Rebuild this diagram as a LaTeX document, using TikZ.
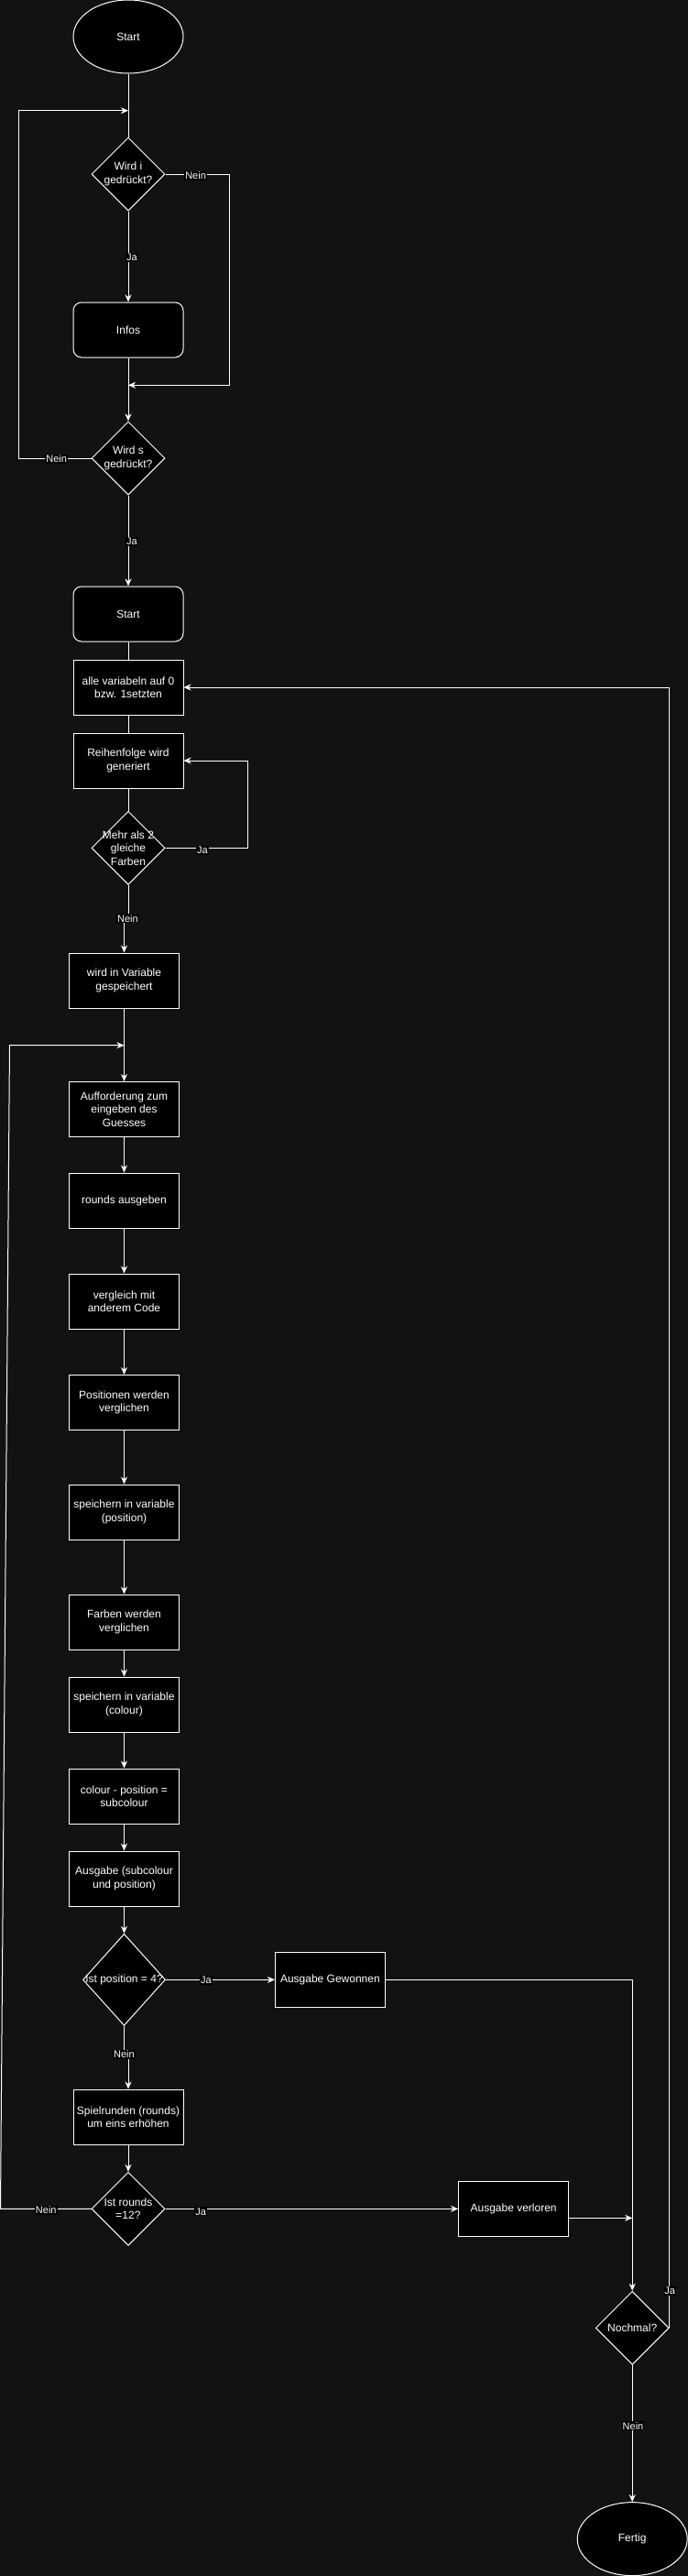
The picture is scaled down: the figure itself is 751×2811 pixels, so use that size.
\documentclass[tikz,border=0pt]{standalone}
\usepackage{fontspec}
\setmainfont{Liberation Sans}
\usetikzlibrary{shapes.geometric,arrows.meta}
\definecolor{bg}{RGB}{18,18,18}
\begin{document}
\begin{tikzpicture}[x=1pt,y=-1pt, line width=1pt,
  every node/.style={text=white, font=\fontsize{12}{14.4}\selectfont},
  box/.style={draw=white, fill=black, minimum width=120pt, minimum height=60pt, inner sep=0pt, align=center},
  rbox/.style={box, rounded corners=9pt},
  ell/.style={ellipse, draw=white, fill=black, minimum width=120pt, minimum height=80pt, inner sep=0pt},
  dia/.style={diamond, draw=white, fill=black, minimum width=80pt, minimum height=80pt, inner sep=0pt},
  dtext/.style={align=center, inner sep=0pt, text=white},
  lbl/.style={fill=black, inner sep=1pt, font=\fontsize{11}{13}\selectfont},
  conn/.style={draw=white},
  arr/.style={conn, -{Stealth[length=8pt,width=7pt,inset=2.5pt]}},
]
\fill[bg] (0,0) rectangle (751,2811);
\useasboundingbox (0,0) rectangle (751,2811);

% nodes
\node[ell] (start) at (140,40) {Start};
\coordinate (c1) at (140,120.7);
\node[dia, label={[dtext]center:{Wird i\\gedrückt?}}] (d1) at (140,190) {};
\node[rbox] (infos) at (140,360) {Infos};
\coordinate (c2) at (140,420.3);
\node[dia, label={[dtext]center:{Wird s\\gedrückt?}}] (d2) at (140,500) {};
\node[rbox] (start2) at (140,670) {Start};
\node[box] (alle) at (140,750) {alle variabeln auf 0\\bzw. 1setzten};
\node[box] (reihen) at (140,830) {Reihenfolge wird\\generiert};
\node[dia, label={[dtext]center:{Mehr als 2\\gleiche\\Farben}}] (d3) at (140,925.3) {};
\node[box] (wird) at (135.5,1070) {wird in Variable\\gespeichert};
\coordinate (c3) at (135.5,1140.7);
\node[box] (auff) at (135.5,1210.5) {Aufforderung zum\\eingeben des\\Guesses};
\node[box] (rounds) at (135.5,1310) {rounds ausgeben};
\node[box] (vergl) at (135.5,1420) {vergleich mit\\anderem Code};
\node[box] (posi) at (135.5,1530.5) {Positionen werden\\verglichen};
\node[box] (speipos) at (135.5,1650) {speichern in variable\\(position)};
\node[box] (farb) at (135.5,1770) {Farben werden\\verglichen};
\node[box] (speicol) at (135.5,1860) {speichern in variable\\(colour)};
\node[box] (colsub) at (135.5,1960) {colour - position =\\subcolour};
\node[box] (ausg) at (135.5,2050) {Ausgabe (subcolour\\und position)};
\node[dia, minimum width=90pt, minimum height=100pt, label={[dtext]center:{Ist position = 4?}}] (d4) at (135.5,2160.3) {};
\node[box] (gew) at (360.4,2160.3) {Ausgabe Gewonnen};
\node[box] (spiel) at (140,2310) {Spielrunden (rounds)\\um eins erhöhen};
\node[dia, label={[dtext]center:{Ist rounds\\=12?}}] (d5) at (140,2410.3) {};
\node[box] (verl) at (560.6,2410.3) {Ausgabe verloren};
\node[dia, label={[dtext]center:{Nochmal?}}] (d6) at (690.2,2540.3) {};
\coordinate (j2) at (690.2,2420.3);
\node[ell] (fertig) at (690.2,2770.6) {Fertig};

% connectors
\draw[conn] (start.south) -- (d1.north);
\draw[arr] (d1.south) -- (infos.north);
\draw[arr] (d1.east) -- (250,190) |- (c2);
\draw[arr] (infos.south) -- (d2.north);
\draw[arr] (d2.west) -- (20.6,500) |- (c1);
\draw[arr] (d2.south) -- (start2.north);
\draw[conn] (start2.south) -- (alle.north);
\draw[conn] (alle.south) -- (reihen.north);
\draw[conn] (reihen.south) -- (d3.north);
\draw[arr] (d3.east) -- (270.6,925.3) |- (reihen.east);
\draw[arr] (d3.south) -- (140,1002) -- (135.5,1002) -- (wird.north);
\draw[arr] (wird.south) -- (auff.north);
\draw[arr] (d5.west) -- (0.5,2410.3) -- (10.5,1140.7) -- (c3);
\draw[arr] (auff.south) -- (rounds.north);
\draw[arr] (rounds.south) -- (vergl.north);
\draw[arr] (vergl.south) -- (posi.north);
\draw[arr] (posi.south) -- (speipos.north);
\draw[arr] (speipos.south) -- (farb.north);
\draw[arr] (farb.south) -- (speicol.north);
\draw[arr] (speicol.south) -- (colsub.north);
\draw[arr] (colsub.south) -- (ausg.north);
\draw[arr] (ausg.south) -- (d4.north);
\draw[arr] (d4.east) -- (gew.west);
\draw[arr] (d4.south) -- (135.5,2242) -- (140,2242) -- (spiel.north);
\draw[arr] (gew.east) -| (d6.north);
\draw[arr] (spiel.south) -- (d5.north);
\draw[arr] (d5.east) -- (verl.west);
\draw[arr] ([yshift=-10pt]verl.east) -- (j2);
\draw[arr] (d6.east) |- (alle.east);
\draw[arr] (d6.south) -- (fertig.north);

% labels
\node[lbl] (l1) at (213.6,192) {Nein};
\node[lbl] (l2) at (144,281) {Ja};
\node[lbl] (l3) at (61.7,501) {Nein};
\node[lbl] (l4) at (144,591) {Ja};
\node[lbl] (l5) at (221,928) {Ja};
\node[lbl] (l6) at (139.4,1002.3) {Nein};
\node[lbl] (l7) at (225,2161) {Ja};
\node[lbl] (l8) at (135.5,2242) {Nein};
\node[lbl] (l9) at (50.3,2412) {Nein};
\node[lbl] (l10) at (219.3,2413.3) {Ja};
\node[lbl] (l11) at (731.3,2500) {Ja};
\node[lbl] (l12) at (691,2647.3) {Nein};
\end{tikzpicture}
\end{document}
